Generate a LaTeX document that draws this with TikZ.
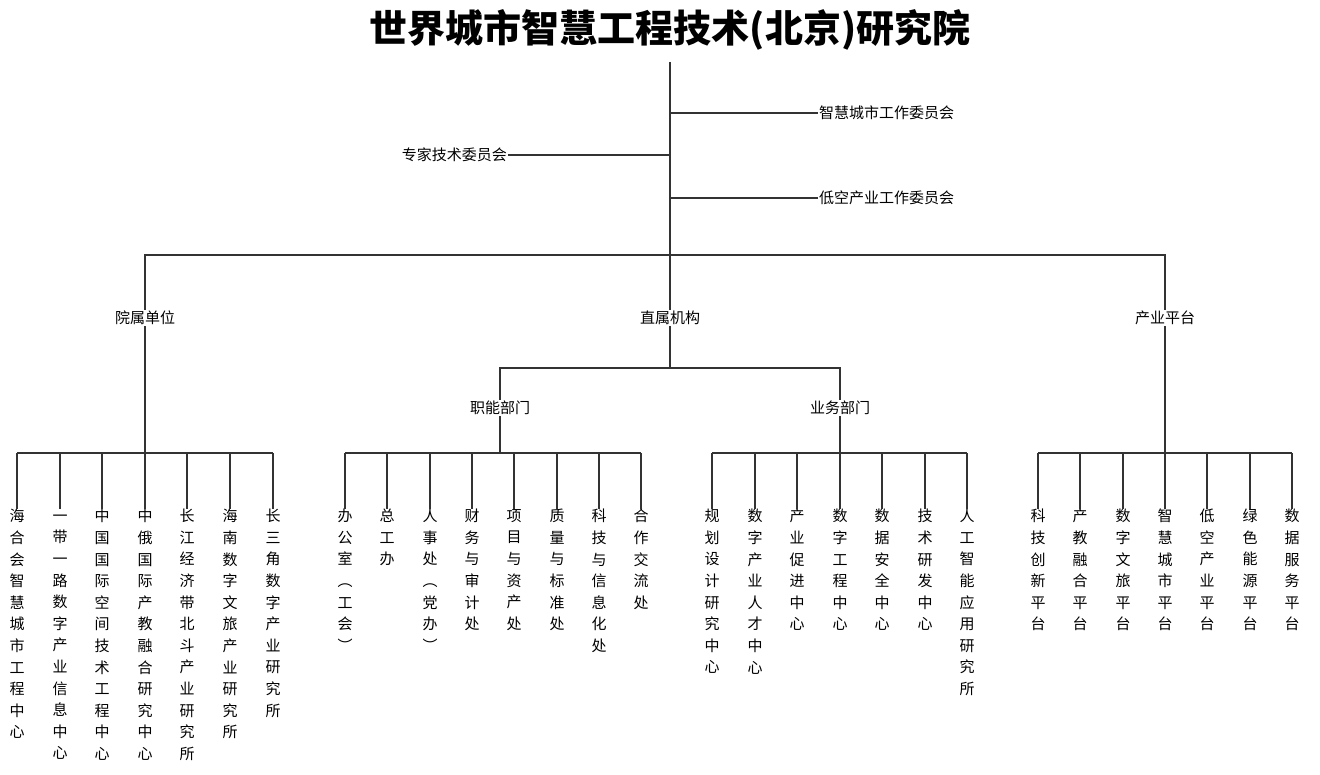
\documentclass[tikz,border=0pt]{standalone}
\usepackage{fontspec}
\setmainfont{Noto Sans CJK SC}
\newcommand{\tp}{\rule{0pt}{12pt}}
\begin{document}
\begin{tikzpicture}[x=1pt,y=-1pt,
  ln/.style={draw=black!80,line width=1.1pt},
  lbl/.style={font=\fontsize{15}{16}\selectfont,inner sep=1pt},
  vb/.style={anchor=north,align=center,inner sep=0pt,font=\fontsize{15}{21.6}\selectfont}]
\useasboundingbox (0,0) rectangle (1320,775);
\node (title) at (670,30) {\fontsize{38}{40}\selectfont\bfseries 世界城市智慧工程技术(北京)研究院};
\coordinate (t0) at (670,62);
\coordinate (t1) at (670,255);
\draw[ln] (t0) -- (t1);
\node[lbl,anchor=west] (c1) at (818,113) {智慧城市工作委员会};
\node[lbl,anchor=east] (c2) at (508,155) {专家技术委员会};
\node[lbl,anchor=west] (c3) at (818,198) {低空产业工作委员会};
\draw[ln] (670,113) -- (c1.west);
\draw[ln] (670,155) -- (c2.east);
\draw[ln] (670,198) -- (c3.west);
\node[lbl] (A) at (145,318) {院属单位};
\node[lbl] (B) at (670,318) {直属机构};
\node[lbl] (C) at (1165,318) {产业平台};
\draw[ln] (A.north) -- (145,255) -- (1165,255) -- (C.north);
\draw[ln] (t1) -- (B.north);
\node[lbl] (B1) at (500,408) {职能部门};
\node[lbl] (B2) at (840,408) {业务部门};
\draw[ln] (B.south) -- (670,368);
\draw[ln] (B1.north) -- (500,368) -- (840,368) -- (B2.north);
\draw[ln] (A.south) -- (145,453);
\draw[ln] (B1.south) -- (500,453);
\draw[ln] (B2.south) -- (840,453);
\draw[ln] (C.south) -- (1165,453);
\draw[ln] (17,453) -- (273,453);
\draw[ln] (345,453) -- (641,453);
\draw[ln] (712,453) -- (967,453);
\draw[ln] (1038,453) -- (1292,453);
\foreach \x/\t [count=\i] in {17/{海\\合\\会\\智\\慧\\城\\市\\工\\程\\中\\心},
  60/{一\\带\\一\\路\\数\\字\\产\\业\\信\\息\\中\\心},
  102/{中\\国\\国\\际\\空\\间\\技\\术\\工\\程\\中\\心},
  145/{中\\俄\\国\\际\\产\\教\\融\\合\\研\\究\\中\\心},
  187/{长\\江\\经\\济\\带\\北\\斗\\产\\业\\研\\究\\所},
  230/{海\\南\\数\\字\\文\\旅\\产\\业\\研\\究\\所},
  273/{长\\三\\角\\数\\字\\产\\业\\研\\究\\所}}{
  \node[vb] (g1n\i) at (\x,509) {\tp\t};
  \draw[ln] (\x,453) -- (g1n\i.north);
}
\foreach \x/\t [count=\i] in {345/{办\\公\\室\\︵\\工\\会\\︶},
  387/{总\\工\\办},
  430/{人\\事\\处\\︵\\党\\办\\︶},
  472/{财\\务\\与\\审\\计\\处},
  514/{项\\目\\与\\资\\产\\处},
  557/{质\\量\\与\\标\\准\\处},
  599/{科\\技\\与\\信\\息\\化\\处},
  641/{合\\作\\交\\流\\处}}{
  \node[vb] (g2n\i) at (\x,509) {\tp\t};
  \draw[ln] (\x,453) -- (g2n\i.north);
}
\foreach \x/\t [count=\i] in {712/{规\\划\\设\\计\\研\\究\\中\\心},
  755/{数\\字\\产\\业\\人\\才\\中\\心},
  797/{产\\业\\促\\进\\中\\心},
  840/{数\\字\\工\\程\\中\\心},
  882/{数\\据\\安\\全\\中\\心},
  925/{技\\术\\研\\发\\中\\心},
  967/{人\\工\\智\\能\\应\\用\\研\\究\\所}}{
  \node[vb] (g3n\i) at (\x,509) {\tp\t};
  \draw[ln] (\x,453) -- (g3n\i.north);
}
\foreach \x/\t [count=\i] in {1038/{科\\技\\创\\新\\平\\台},
  1080/{产\\教\\融\\合\\平\\台},
  1123/{数\\字\\文\\旅\\平\\台},
  1165/{智\\慧\\城\\市\\平\\台},
  1207/{低\\空\\产\\业\\平\\台},
  1250/{绿\\色\\能\\源\\平\\台},
  1292/{数\\据\\服\\务\\平\\台}}{
  \node[vb] (g4n\i) at (\x,509) {\tp\t};
  \draw[ln] (\x,453) -- (g4n\i.north);
}
\end{tikzpicture}
\end{document}
